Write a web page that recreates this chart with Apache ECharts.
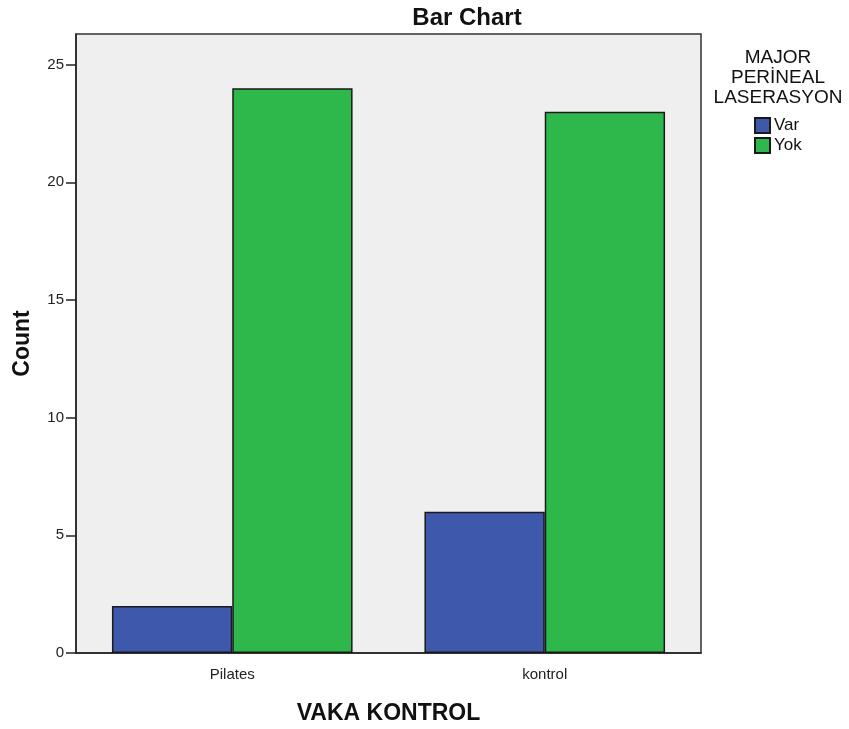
<!DOCTYPE html>
<html>
<head>
<meta charset="utf-8">
<script src="https://cdn.jsdelivr.net/npm/echarts@6/dist/echarts.min.js"></script>
<style>
  html, body { margin: 0; padding: 0; background: #fff; }
  #chart { width: 849px; height: 729px; }
</style>
</head>
<body>
<div id="chart"></div>
<script>
// data
const categories = ['Pilates', 'kontrol'];
const varCounts = [2, 6];
const yokCounts = [24, 23];
const seriesNames = ['Var', 'Yok'];
const yTicks = [0, 5, 10, 15, 20, 25];

const chart = echarts.init(document.getElementById('chart'));
const font = 'Arial, "Liberation Sans", sans-serif';

const option = {
    animation: false,
    backgroundColor: '#ffffff',
    title: {
        text: 'Bar Chart',
        left: 462,
        top: 1,
        textAlign: 'center',
        textStyle: { fontFamily: font, fontSize: 24, fontWeight: 'bold', color: '#111' }
    },
    graphic: [{
        type: 'text',
        x: 778,
        y: 48,
        style: {
            text: 'MAJOR\nPERİNEAL\nLASERASYON',
            font: '19px ' + font,
            fill: '#111',
            align: 'center',
            verticalAlign: 'top',
            lineHeight: 20
        }
    }],
    legend: {
        data: seriesNames,
        orient: 'vertical',
        left: 754,
        top: 117,
        padding: 0,
        itemWidth: 15,
        itemHeight: 15,
        itemGap: 3,
        icon: 'rect',
        textStyle: { fontFamily: font, fontSize: 17, color: '#111', padding: [0, 0, 0, -1] }
    },
    grid: {
        left: 76,
        right: 148,
        top: 34,
        bottom: 76,
        outerBoundsMode: 'none',
        show: true,
        backgroundColor: '#efefef',
        borderColor: '#333',
        borderWidth: 1.5
    },
    xAxis: {
        type: 'category',
        data: categories,
        name: 'VAKA KONTROL',
        nameLocation: 'middle',
        nameGap: 49,
        nameTextStyle: { fontFamily: font, fontSize: 23, fontWeight: 'bold', color: '#111' },
        axisLine: { lineStyle: { color: '#222', width: 1.5 } },
        axisTick: { alignWithLabel: true, length: 8, lineStyle: { color: '#222', width: 1.5 } },
        axisLabel: { fontFamily: font, fontSize: 15, color: '#222', margin: 14 },
        splitLine: { show: false }
    },
    yAxis: {
        type: 'value',
        min: 0,
        max: 26.3,
        interval: 5,
        name: 'Count',
        nameLocation: 'middle',
        nameGap: 42,
        nameRotate: 90,
        nameTextStyle: { fontFamily: font, fontSize: 23, fontWeight: 'bold', color: '#111' },
        axisLine: { show: true, lineStyle: { color: '#222', width: 1.5 } },
        axisTick: { show: true, length: 10, customValues: yTicks, lineStyle: { color: '#222', width: 1.5 } },
        axisLabel: {
            fontFamily: font, fontSize: 15, color: '#222', margin: 12,
            customValues: yTicks
        },
        splitLine: { show: false }
    },
    series: [
        {
            name: seriesNames[0],
            type: 'bar',
            data: varCounts,
            barGap: '0%',
            barCategoryGap: '23%',
            itemStyle: { color: '#3e58ac', borderColor: '#1a1a1a', borderWidth: 1.5 }
        },
        {
            name: seriesNames[1],
            type: 'bar',
            data: yokCounts,
            barGap: '0%',
            barCategoryGap: '23%',
            itemStyle: { color: '#2eb84b', borderColor: '#1a1a1a', borderWidth: 1.5 }
        }
    ]
};

chart.setOption(option);
</script>
</body>
</html>
